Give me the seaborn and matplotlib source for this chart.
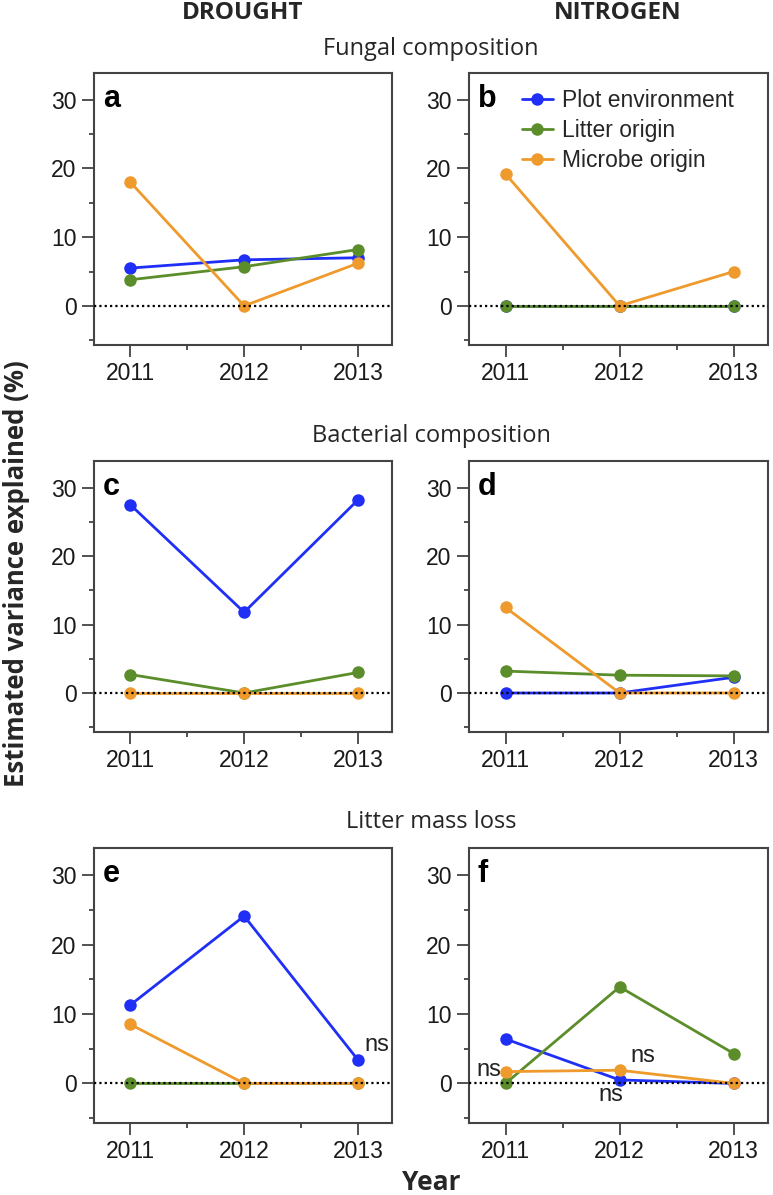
import numpy as np
import pandas as pd
import matplotlib
matplotlib.use("Agg")
import matplotlib.pyplot as plt
import seaborn as sns
from matplotlib.lines import Line2D
from matplotlib.ticker import FixedLocator

sns.set_theme(style="white")
plt.rcParams['font.family'] = ['Liberation Sans', 'DejaVu Sans']

years = [2011, 2012, 2013]
sources = ["Plot environment", "Litter origin", "Microbe origin"]
colors = ["#1f2ff5", "#5b8e2a", "#ee9a2c"]

# panel values: plot environment, litter origin, microbe origin
a_plot = [5.5, 6.7, 7.0]
a_litter = [3.8, 5.7, 8.2]
a_microbe = [18.0, 0.0, 6.2]

b_plot = [0.0, 0.0, 0.0]
b_litter = [0.0, 0.0, 0.0]
b_microbe = [19.2, 0.0, 5.0]

c_plot = [27.5, 11.8, 28.2]
c_litter = [2.7, 0.0, 3.0]
c_microbe = [0.0, 0.0, 0.0]

d_plot = [0.0, 0.0, 2.3]
d_litter = [3.2, 2.6, 2.5]
d_microbe = [12.5, 0.0, 0.0]

e_plot = [11.3, 24.1, 3.4]
e_litter = [0.0, 0.0, 0.0]
e_microbe = [8.5, 0.0, 0.0]

f_plot = [6.4, 0.5, 0.0]
f_litter = [0.0, 13.9, 4.3]
f_microbe = [1.7, 1.9, 0.0]

panels = {
    "a": (a_plot, a_litter, a_microbe),
    "b": (b_plot, b_litter, b_microbe),
    "c": (c_plot, c_litter, c_microbe),
    "d": (d_plot, d_litter, d_microbe),
    "e": (e_plot, e_litter, e_microbe),
    "f": (f_plot, f_litter, f_microbe),
}

col_titles = ["DROUGHT", "NITROGEN"]
row_titles = ["Fungal composition", "Bacterial composition", "Litter mass loss"]
ytick_labels = [0, 10, 20, 30]

# ns annotations: panel, x, y
ns_notes = [("e", 2013.17, 5.6), ("f", 2010.85, 1.9), ("f", 2012.2, 3.9), ("f", 2011.92, -1.7)]

W, H = 773, 1195
fig = plt.figure(figsize=(W / 100, H / 100), dpi=100)

col_x = [94, 469]
col_w = [298, 299]
row_top = [73, 461, 848]
row_bot = [345, 732, 1123]

letters = [["a", "b"], ["c", "d"], ["e", "f"]]
axes = {}
for r in range(3):
    for c in range(2):
        ax = fig.add_axes([col_x[c] / W, 1 - row_bot[r] / H, col_w[c] / W, (row_bot[r] - row_top[r]) / H])
        axes[letters[r][c]] = ax

title_font = ['Open Sans', 'DejaVu Sans']

for key, ax in axes.items():
    vals = panels[key]
    df = pd.DataFrame({
        "year": years * 3,
        "value": list(vals[0]) + list(vals[1]) + list(vals[2]),
        "source": [s for s in sources for _ in years],
    })
    sns.lineplot(data=df, x="year", y="value", hue="source", hue_order=sources,
                 palette=colors, marker="o", markersize=9, markeredgewidth=0,
                 linewidth=2.0, legend=False, ax=ax)
    ax.axhline(0, color="black", lw=1.6, ls=(0, (1, 1.4)), zorder=6)
    ax.set_xlim(2010.68, 2013.3)
    ax.set_ylim(-5.7, 33.9)
    ax.yaxis.set_major_locator(FixedLocator(ytick_labels))
    ax.yaxis.set_minor_locator(FixedLocator([-5, 5, 15, 25]))
    ax.xaxis.set_major_locator(FixedLocator(years))
    ax.xaxis.set_minor_locator(FixedLocator([2011.5, 2012.5]))
    ax.set_xticklabels([str(y) for y in years])
    ax.set_xlabel("")
    ax.set_ylabel("")
    ax.tick_params(axis="both", which="major", length=8.5, width=1.2, color="#333333",
                   labelsize=16.5, direction="out", pad=4, left=True, bottom=True,
                   labelcolor="#1a1a1a")
    ax.tick_params(axis="both", which="minor", length=3.5, width=1.2, color="#333333",
                   direction="out", left=True, bottom=True)
    for sp in ax.spines.values():
        sp.set_color("#444444")
        sp.set_linewidth(1.5)
    ax.text(0.03, 0.905, key, transform=ax.transAxes, fontsize=22, fontweight="bold",
            ha="left", va="center", color="black")

for key, x, y in ns_notes:
    axes[key].text(x, y, "ns", fontsize=17, ha="center", va="center", color="#222222", zorder=7)

handles = [Line2D([0], [0], color=col, lw=2.0, marker="o", markersize=9, markeredgewidth=0)
           for col in colors]
axes["b"].legend(handles, sources, loc="upper left", bbox_to_anchor=(0.13, 0.99),
                 frameon=False, fontsize=16.5, handlelength=1.35, handletextpad=0.4,
                 labelspacing=0.3, borderaxespad=0.2)

fig.text(243 / W, 1 - 13 / H, col_titles[0], ha="center", va="center", fontsize=17.5,
         fontweight="bold", family=title_font)
fig.text(618 / W, 1 - 13 / H, col_titles[1], ha="center", va="center", fontsize=17.5,
         fontweight="bold", family=title_font)
for yy, t in zip([49, 436, 822], row_titles):
    fig.text(431 / W, 1 - yy / H, t, ha="center", va="center", fontsize=17, family=title_font)

fig.text(17 / W, 1 - 574 / H, "Estimated variance explained (%)", rotation=90, ha="center",
         va="center", fontsize=18.5, fontweight="bold", family=title_font)
fig.text(431 / W, 1 - 1183 / H, "Year", ha="center", va="center", fontsize=19,
         fontweight="bold", family=title_font)

fig.savefig("out.png", dpi=100)
